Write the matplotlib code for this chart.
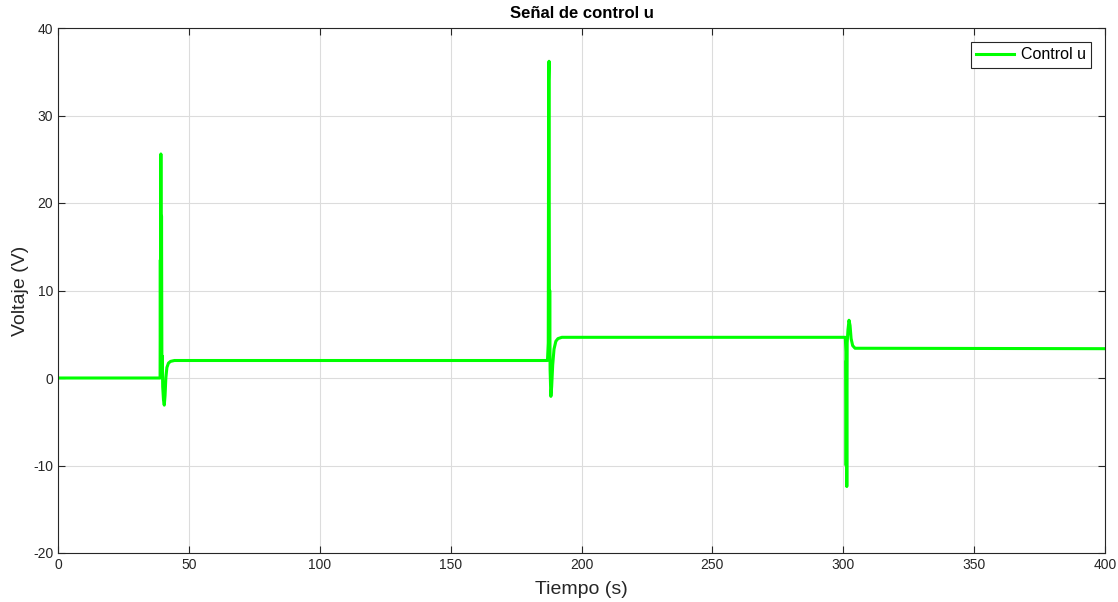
import matplotlib
matplotlib.use("Agg")
import matplotlib.pyplot as plt

# Time (s) and control signal u (V)
t = [0, 39.0, 39.1, 39.2, 39.3, 39.45, 39.55, 39.7, 39.85, 40.0, 40.3, 40.6, 40.9,
     41.2, 41.6, 42.2, 43.0, 44.5,
     187.0, 187.3, 187.45, 187.6, 187.75, 187.85, 188.0, 188.3, 188.6, 189.0,
     189.5, 190.2, 191.0, 192.5,
     300.8, 301.0, 301.1, 301.2, 301.35, 301.5, 301.8, 302.2, 302.6, 303.0,
     303.6, 304.5, 400]
u = [0, 0, 13.5, 0.5, 25.6, 1.0, 18.5, 0.5, 2.5, -1.0, -2.5, -3.1, -2.0,
     0.0, 1.2, 1.7, 1.9, 2.0,
     2.0, 4.0, 34.0, 36.2, 4.0, 10.0, 1.0, -2.1, -1.0, 1.5,
     3.3, 4.2, 4.5, 4.65,
     4.65, 3.0, -10.0, 2.0, -12.4, 4.0, 5.5, 6.6, 6.0, 4.5,
     3.7, 3.4, 3.35]

xticks = [0, 50, 100, 150, 200, 250, 300, 350, 400]
yticks = [-20, -10, 0, 10, 20, 30, 40]

plt.rcParams['font.family'] = ['Liberation Sans', 'DejaVu Sans']
plt.rcParams['axes.unicode_minus'] = False

fig = plt.figure(figsize=(11.18, 6.02), dpi=100)
ax = fig.add_axes([58/1118, 49/602, (1105-58)/1118, (553-28)/602])
ax.plot(t, u, color='#00ff00', linewidth=2.2, label='Control u')
ax.set_xlim(0, 400)
ax.set_ylim(-20, 40)
ax.set_xticks(xticks)
ax.set_yticks(yticks)
ax.grid(True, color='#dcdcdc', linewidth=0.8)
ax.set_axisbelow(True)
for s in ax.spines.values():
    s.set_color('#262626')
    s.set_linewidth(0.8)
ax.tick_params(direction='in', length=5, width=0.8, color='#262626',
               labelsize=10, labelcolor='#262626', top=True, right=True)
ax.set_xlabel('Tiempo (s)', fontsize=14, color='#262626')
ax.set_ylabel('Voltaje (V)', fontsize=14, color='#262626')
ax.yaxis.set_label_coords(-0.0277, 0.5)
ax.xaxis.set_label_coords(0.5, -0.053)
ax.set_title('Señal de control u', fontsize=12, fontweight='bold', pad=7)
leg = ax.legend(loc='upper right', fontsize=11.5, fancybox=False, framealpha=1,
                edgecolor='#262626', handlelength=2.4, borderaxespad=0.85,
                borderpad=0.35, handletextpad=0.4)
leg.get_frame().set_linewidth(0.8)
fig.savefig('out.png', dpi=100)
